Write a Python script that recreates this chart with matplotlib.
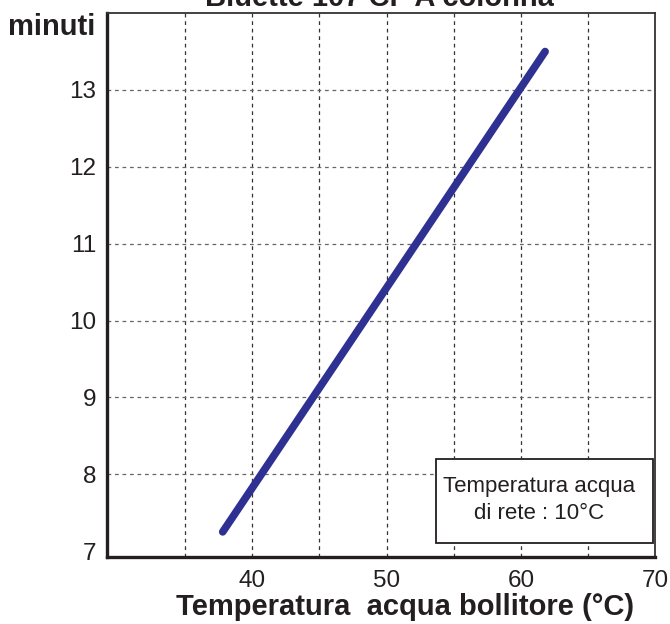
import matplotlib
matplotlib.use("Agg")
import matplotlib.pyplot as plt
from matplotlib.patches import Rectangle

plt.rcParams['font.family'] = ['Liberation Sans', 'DejaVu Sans']

temp = [37.8, 61.8]
minutes = [7.25, 13.5]
xticks = [40, 50, 60, 70]
yticks = [7, 8, 9, 10, 11, 12, 13]
xgrid = [35, 40, 45, 50, 55, 60, 65]

fig = plt.figure(figsize=(6.7, 6.24), dpi=100)
ax = fig.add_axes([0.16, 0.107, 0.818, 0.872])
ax.set_xlim(29.2, 70)
ax.set_ylim(6.92, 14)

for g in xgrid:
    ax.axvline(g, color='#333333', lw=0.9, ls=(0, (3, 3)), zorder=1)
for g in yticks[1:]:
    ax.axhline(g, color='#666666', lw=0.9, ls=(0, (3, 3)), zorder=1)

ax.plot(temp, minutes, color='#2e3192', lw=5.5, solid_capstyle='round', zorder=3)

ax.set_xticks(xticks)
ax.set_yticks(yticks)
ax.tick_params(length=0, labelsize=17.5, colors='#231f20')
ax.tick_params(axis='y', pad=8)
ax.tick_params(axis='x', pad=9)
for s in ['left', 'bottom']:
    ax.spines[s].set_linewidth(2.4)
    ax.spines[s].set_color('#231f20')
for s in ['top', 'right']:
    ax.spines[s].set_linewidth(1.3)
    ax.spines[s].set_color('#333333')

ax.set_xlabel('Temperatura  acqua bollitore (°C)', fontsize=21, fontweight='bold',
              color='#231f20', labelpad=1, x=0.543)
fig.text(0.012, 0.957, 'minuti', fontsize=21, fontweight='bold', color='#231f20',
         ha='left', va='center')
fig.text(0.567, 1 - 6/624, 'Bluette 107 CF A colonna', fontsize=21, fontweight='bold',
         color='#231f20', ha='center', va='baseline')

ax.add_patch(Rectangle((0.600, 0.026), 0.395, 0.154, transform=ax.transAxes,
                       fc='white', ec='#231f20', lw=1.3, zorder=5))
ax.text(0.788, 0.105, 'Temperatura acqua\ndi rete : 10°C', transform=ax.transAxes,
        fontsize=16, ha='center', va='center', color='#231f20', linespacing=1.35,
        zorder=6)

fig.savefig('out.png', dpi=100)
